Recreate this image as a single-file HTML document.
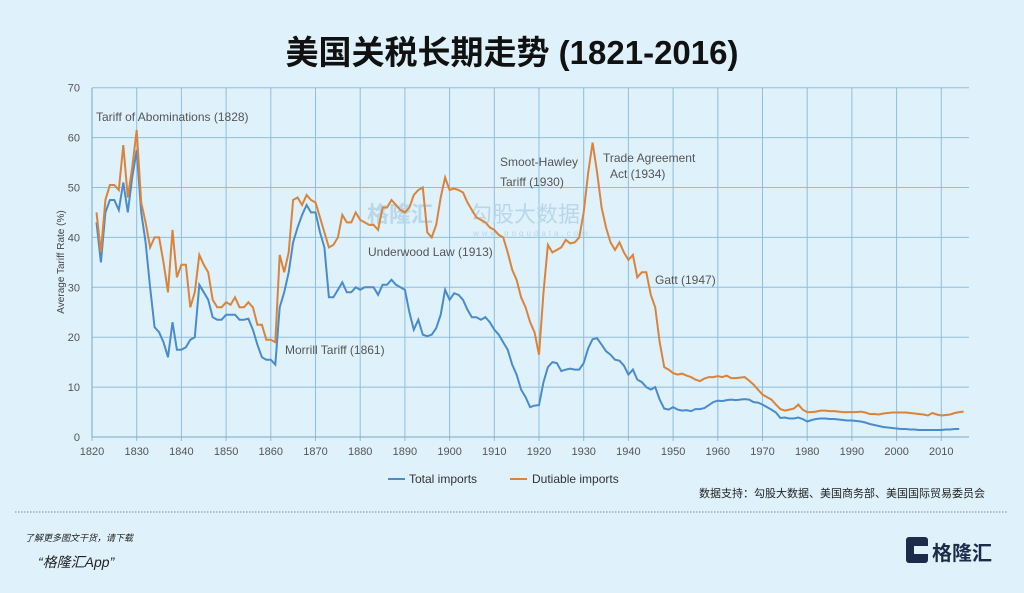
<!DOCTYPE html>
<html><head><meta charset="utf-8"><style>
body{margin:0;width:1024px;height:588px;background:#dff1fa;overflow:hidden;font-family:"Liberation Sans","Noto Sans CJK SC",sans-serif;}
svg text{font-family:"Liberation Sans","Noto Sans CJK SC",sans-serif;}
</style></head><body>
<svg id="s" width="1024" height="588" xmlns="http://www.w3.org/2000/svg">
<rect width="1024" height="588" fill="#dff1fa"/>
<text x="512" y="64" font-size="33" font-weight="bold" text-anchor="middle" fill="#111">美国关税长期走势 (1821-2016)</text>
<g id="grid"></g>
<text x="367" y="222" font-size="22" fill="#b9d7ea" font-weight="bold">格隆汇</text>
<text x="470" y="222" font-size="22" fill="#b9d7ea">勾股大数据</text>
<text x="473" y="236" font-size="8" fill="#b9d7ea" letter-spacing="3">www.gogudata.com</text>
<text transform="translate(64,262) rotate(-90)" font-size="10" text-anchor="middle" fill="#444">Average Tariff Rate (%)</text>
<g font-size="12" fill="#555">
<text x="96" y="121">Tariff of Abominations (1828)</text>
<text x="285" y="354">Morrill Tariff  (1861)</text>
<text x="368" y="256">Underwood  Law (1913)</text>
<text x="500" y="166">Smoot-Hawley</text>
<text x="500" y="186">Tariff (1930)</text>
<text x="603" y="162">Trade Agreement</text>
<text x="610" y="178">Act (1934)</text>
<text x="655" y="284">Gatt (1947)</text>
</g>
<path id="t" fill="none" stroke="#4a8ccb" stroke-width="2"/>
<path id="d" fill="none" stroke="#d9843a" stroke-width="2"/>
<line x1="388" y1="479" x2="405" y2="479" stroke="#4a8ccb" stroke-width="2"/>
<text x="409" y="483" font-size="12" fill="#333">Total imports</text>
<line x1="510" y1="479" x2="527" y2="479" stroke="#d9843a" stroke-width="2"/>
<text x="532" y="483" font-size="12" fill="#333">Dutiable imports</text>
<text x="985" y="497" font-size="11" text-anchor="end" fill="#222">数据支持：勾股大数据、美国商务部、美国国际贸易委员会</text>
<line x1="15" y1="512" x2="1008" y2="512" stroke="#888" stroke-dasharray="1.5,1.5"/>
<text x="25" y="541" font-size="9" font-style="italic" fill="#222">了解更多图文干货，请下载</text>
<text x="38" y="567" font-size="14" font-style="italic" fill="#222">“格隆汇App”</text>
<rect x="906" y="537" width="22" height="26" rx="3" fill="#1e2a4a"/>
<rect x="914" y="546" width="14" height="8" fill="#dff1fa"/>
<text x="932" y="560" font-size="20" font-weight="bold" fill="#1e2a4a">格隆汇</text>
</svg>
<script>
var X=function(y){return 92+(y-1820)*4.47},Y=function(v){return 437-v*4.99};
var g='';
for(var v=0;v<=70;v+=10){g+='<line x1="92" x2="969" y1="'+Y(v)+'" y2="'+Y(v)+'" stroke="#8dbfdf" stroke-width="1"/>';g+='<text x="80" y="'+(Y(v)+4)+'" font-size="11" text-anchor="end" fill="#555">'+v+'</text>';}
for(var yr=1820;yr<=2010;yr+=10){g+='<line y1="88" y2="441" x1="'+X(yr)+'" x2="'+X(yr)+'" stroke="#8dbfdf" stroke-width="1"/>';g+='<text x="'+X(yr)+'" y="455" font-size="11" text-anchor="middle" fill="#555">'+yr+'</text>';}
g+='<line x1="92" x2="92" y1="88" y2="437" stroke="#7aa9c8"/><line x1="92" x2="969" y1="437" y2="437" stroke="#7aa9c8"/>';
document.getElementById('grid').innerHTML=g;
var T=[43,35,45,47.5,47.5,45.5,51,45,52,57.5,45,39,30,22,21,19,16,23,17.5,17.5,18,19.5,20,30.5,29,27.5,24,23.5,23.5,24.5,24.5,24.5,23.5,23.5,23.7,21.5,18.5,16,15.5,15.5,14.5,26,29,33,39,42,44.5,46.5,45,45,41,38,28,28,29.5,31,29,29,30,29.5,30,30,30,28.5,30.5,30.5,31.5,30.5,30,29.5,25,21.5,23.5,20.5,20.2,20.5,21.8,24.5,29.5,27.5,28.8,28.5,27.5,25.5,24,24,23.5,24,23,21.5,20.5,19,17.5,14.5,12.5,9.5,8,6,6.3,6.4,11,14,15,14.8,13.2,13.5,13.7,13.5,13.5,14.8,17.8,19.6,19.8,18.5,17.2,16.5,15.5,15.3,14.3,12.5,13.5,11.5,11,10,9.5,10,7.5,5.7,5.5,6,5.5,5.3,5.4,5.2,5.6,5.6,5.8,6.4,7,7.3,7.2,7.4,7.5,7.4,7.5,7.6,7.5,7,6.9,6.5,6,5.5,4.9,3.8,3.9,3.7,3.7,3.9,3.6,3.1,3.4,3.6,3.7,3.7,3.6,3.6,3.5,3.4,3.3,3.3,3.2,3.1,2.9,2.6,2.4,2.2,2,1.9,1.8,1.7,1.6,1.6,1.5,1.5,1.4,1.4,1.4,1.4,1.4,1.4,1.5,1.5,1.6,1.6];
var D=[45,37,47.5,50.5,50.5,49.5,58.5,48,54,61.5,47,43,38,40,40,35,29,41.5,32,34.5,34.5,26,29,36.5,34.5,33,27.5,26,26,27,26.5,28,26,26,27,26,22.5,22.5,19.5,19.5,19,36.5,33,37,47.5,48,46.5,48.5,47.5,47,44,41,38,38.5,40,44.5,43,43,45,43.5,43,42.5,42.5,41.5,46,46,47.5,46.5,45.5,45,46,48.5,49.5,50,41,40,42.5,48,52,49.5,49.8,49.5,49,47,45.5,44,43.5,43,42,41.5,40.5,40,37,33.5,31.5,28,26,23,21,16.5,29,38.5,37,37.5,38,39.5,38.8,39,40,45,53,59,53,46,42,39,37.5,39,37,35.5,36.5,32,33,33,28.5,26,19,14,13.5,12.8,12.5,12.7,12.3,12,11.5,11.2,11.7,12,12,12.2,12,12.3,11.8,11.8,11.9,12,11.3,10.5,9.5,8.5,8,7.5,6.5,5.6,5.3,5.5,5.7,6.5,5.5,5,5,5.1,5.3,5.3,5.2,5.2,5.1,5,5,5,5,5.1,4.9,4.6,4.6,4.5,4.7,4.8,4.9,4.9,4.9,4.9,4.8,4.7,4.6,4.5,4.3,4.8,4.5,4.3,4.4,4.5,4.8,5,5.1];
function p(a){var s='';for(var i=0;i<a.length;i++){s+=(i?'L':'M')+X(1821+i).toFixed(1)+','+Y(a[i]).toFixed(1);}return s;}
document.getElementById('t').setAttribute('d',p(T));
document.getElementById('d').setAttribute('d',p(D));
</script>
</body></html>
